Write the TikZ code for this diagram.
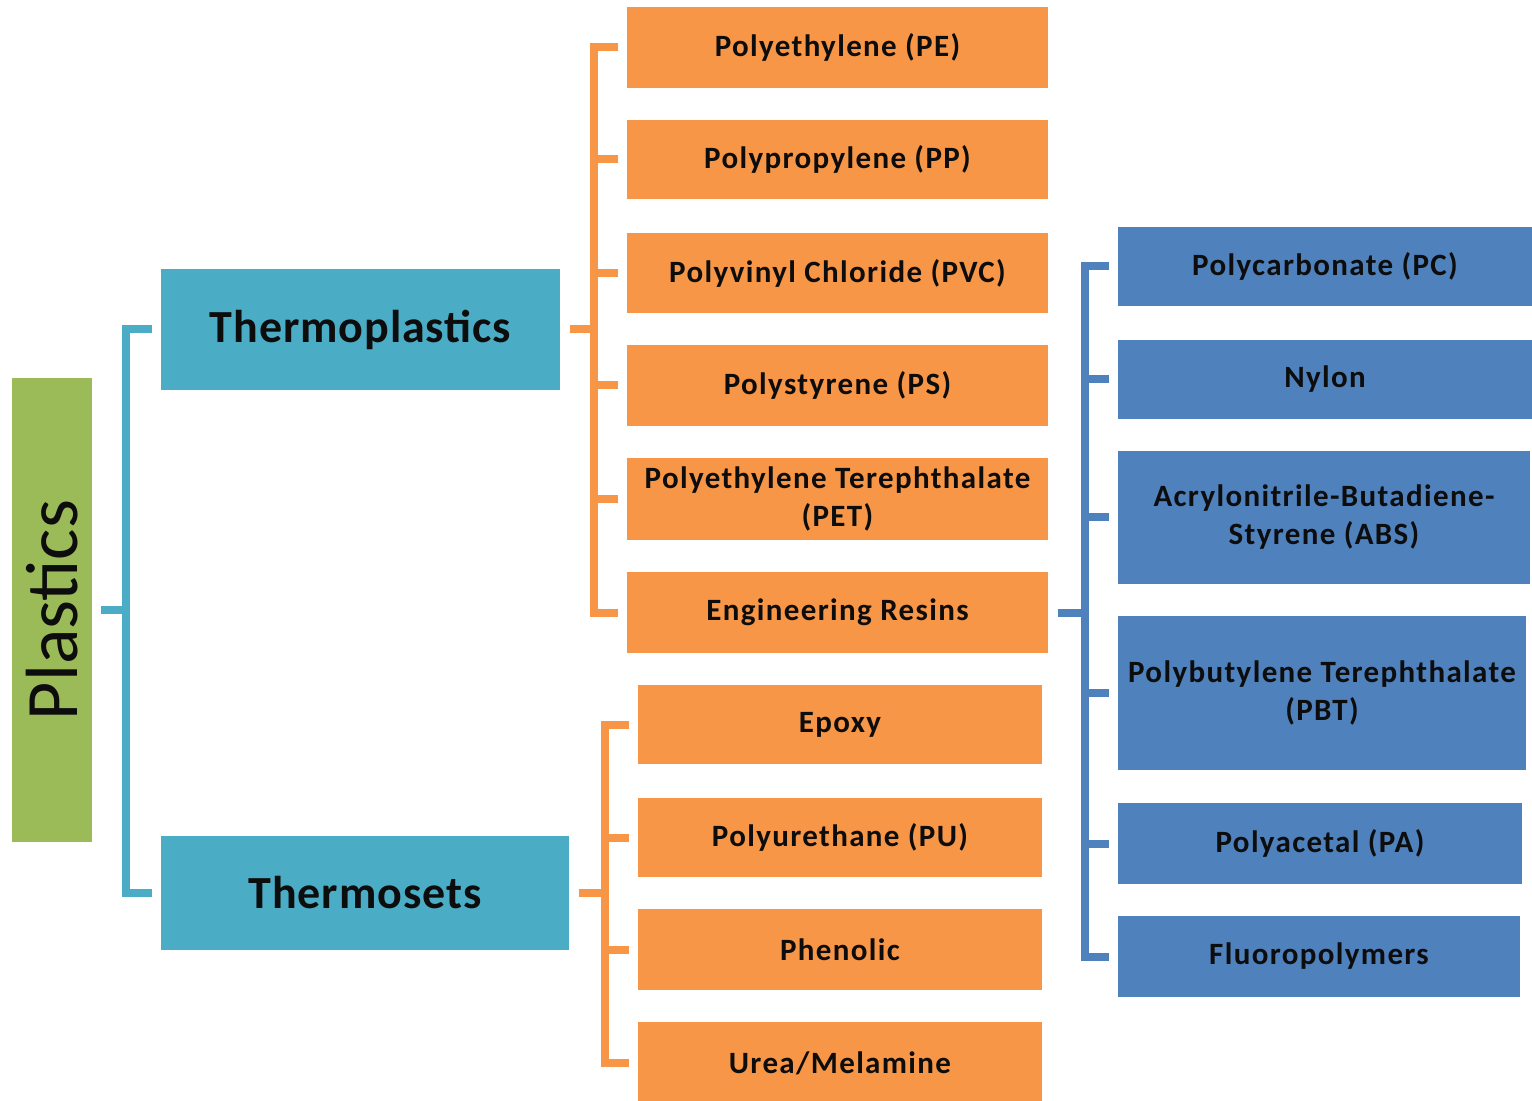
\documentclass[tikz,border=0pt]{standalone}
\usepackage{fontspec}
\setmainfont{Carlito}
\newfontfamily\lsfont{Carlito}[LetterSpace=4.4]
\newfontfamily\lsbigfont{Carlito}[LetterSpace=2]
\usetikzlibrary{calc}
\definecolor{ora}{HTML}{F79646}
\definecolor{teal2}{HTML}{4BACC6}
\definecolor{blu}{HTML}{4F81BD}
\definecolor{grn}{HTML}{9BBB59}
\definecolor{txt}{HTML}{0D0D0D}
\tikzset{
  box/.style={rectangle, inner sep=0pt, align=center, text=txt, font=\lsfont\bfseries\fontsize{15.5}{19}\selectfont},
  obox/.style={box, fill=ora},
  bbox/.style={box, fill=blu},
  cbox/.style={box, fill=teal2, font=\lsbigfont\bfseries\fontsize{23}{28}\selectfont},
  oline/.style={draw=ora, line width=4pt},
  bline/.style={draw=blu, line width=4pt},
  tline/.style={draw=teal2, line width=4pt},
}
\begin{document}
\begin{tikzpicture}[x=0.5pt,y=-0.5pt]
\useasboundingbox (0,0) rectangle (1532,1101);
% root
\node[box, fill=grn, minimum width=40pt, minimum height=232pt] (pl) at (52,610) {};
\node[text=txt, rotate=90, font=\fontsize{37}{42}\selectfont, inner sep=0pt] (plt) at (pl.center) {Plastics};
% level 1
\node[cbox, minimum width=199.5pt, minimum height=60.5pt] (tp) at (360.5,329.5) {Thermoplastics};
\node[cbox, minimum width=204pt, minimum height=57pt] (ts) at (365,893) {Thermosets};
% thermoplastics children
\node[obox, minimum width=210.5pt, minimum height=40.5pt] (pe) at (837.5,47.5) {Polyethylene (PE)};
\node[obox, minimum width=210.5pt, minimum height=39.5pt] (pp) at (837.5,159.5) {Polypropylene (PP)};
\node[obox, minimum width=210.5pt, minimum height=40pt] (pvc) at (837.5,273) {Polyvinyl Chloride (PVC)};
\node[obox, minimum width=210.5pt, minimum height=40.5pt] (ps) at (837.5,385.5) {Polystyrene (PS)};
\node[obox, minimum width=210.5pt, minimum height=41pt] (pet) at (837.5,499) {Polyethylene Terephthalate\\(PET)};
\node[obox, minimum width=210.5pt, minimum height=40.5pt] (er) at (837.5,612.5) {Engineering Resins};
% thermosets children
\node[obox, minimum width=202pt, minimum height=39.5pt] (ep) at (840,724.5) {Epoxy};
\node[obox, minimum width=202pt, minimum height=39.5pt] (pu) at (840,837.5) {Polyurethane (PU)};
\node[obox, minimum width=202pt, minimum height=40.5pt] (ph) at (840,949.5) {Phenolic};
\node[obox, minimum width=202pt, minimum height=41pt] (um) at (840,1063) {Urea/Melamine};
% engineering resins children
\node[bbox, minimum width=207pt, minimum height=39.5pt] (pc) at (1325,266.5) {Polycarbonate (PC)};
\node[bbox, minimum width=207pt, minimum height=39.5pt] (ny) at (1325,379.5) {Nylon};
\node[bbox, minimum width=206pt, minimum height=66.5pt] (abs) at (1324,517.5) {Acrylonitrile-Butadiene-\\Styrene (ABS)};
\node[bbox, minimum width=204pt, minimum height=77pt] (pbt) at (1322,693) {Polybutylene Terephthalate\\(PBT)};
\node[bbox, minimum width=202pt, minimum height=40.5pt] (pa) at (1320,843.5) {Polyacetal (PA)};
\node[bbox, minimum width=201pt, minimum height=40.5pt] (fl) at (1319,956.5) {Fluoropolymers};
% teal bracket
\draw[tline] ($(tp.west)+(-9,0)$) -| ($(ts.west)+(-35,0)$) -- ($(ts.west)+(-9,0)$);
\draw[tline] ($(pl.east)+(9,0)$) -- ($(pl.east)+(34,0)$);
% orange bracket 1
\draw[oline] ($(pe.west)+(-9,0)$) -| ($(er.west)+(-33,0)$) -- ($(er.west)+(-9,0)$);
\foreach \n in {pp,pvc,ps,pet} \draw[oline] ($(\n.west)+(-9,0)$) -- ($(\n.west)+(-33,0)$);
\draw[oline] ($(tp.east)+(10,0)$) -- ($(tp.east)+(36,0)$);
% orange bracket 2
\draw[oline] ($(ep.west)+(-9,0)$) -| ($(um.west)+(-33,0)$) -- ($(um.west)+(-9,0)$);
\foreach \n in {pu,ph} \draw[oline] ($(\n.west)+(-9,0)$) -- ($(\n.west)+(-33,0)$);
\draw[oline] ($(ts.east)+(10,0)$) -- ($(ts.east)+(38,0)$);
% blue bracket
\draw[bline] ($(pc.west)+(-9,0)$) -| ($(fl.west)+(-33,0)$) -- ($(fl.west)+(-9,0)$);
\foreach \n in {ny,abs,pbt,pa} \draw[bline] ($(\n.west)+(-9,0)$) -- ($(\n.west)+(-33,0)$);
\draw[bline] ($(er.east)+(10,0)$) -- ($(er.east)+(39,0)$);
\end{tikzpicture}
\end{document}
